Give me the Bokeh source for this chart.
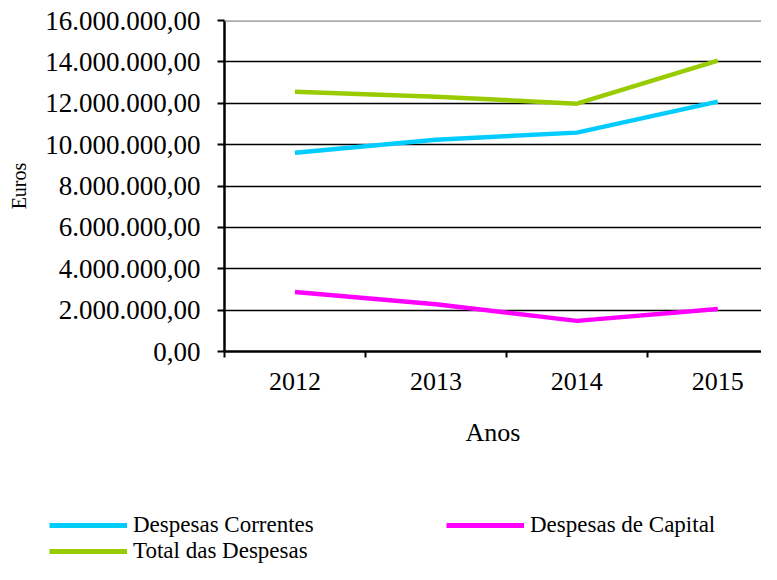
from bokeh.plotting import figure
from bokeh.models import (Range1d, FixedTicker, Legend, LegendItem, Span)
from bokeh.layouts import column
from bokeh.embed import file_html
from bokeh.resources import INLINE

# ---- data ----
years = ["2012", "2013", "2014", "2015"]
correntes = [9610000, 10240000, 10580000, 12080000]
capital = [2880000, 2280000, 1480000, 2060000]
total = [12560000, 12320000, 11980000, 14060000]
y_ticks = [0, 2000000, 4000000, 6000000, 8000000, 10000000, 12000000, 14000000, 16000000]
y_labels = ["0,00", "2.000.000,00", "4.000.000,00", "6.000.000,00", "8.000.000,00",
            "10.000.000,00", "12.000.000,00", "14.000.000,00", "16.000.000,00"]
series_names = ["Despesas Correntes", "Despesas de Capital", "Total das Despesas"]
series_colors = ["#00CCFF", "#FF00FF", "#99CC00"]

FONT = "Liberation Serif"

xpos = [i + 0.5 for i in range(len(years))]

p = figure(width=761, height=460, output_backend="svg", toolbar_location=None,
           x_range=Range1d(0, 3.81), y_range=Range1d(0, 16000000),
           min_border_left=224, min_border_right=0, min_border_top=20,
           min_border_bottom=109)
p.frame_align = False
p.outline_line_color = None
p.background_fill_color = "white"
p.border_fill_color = "white"

# x axis
p.xaxis.ticker = FixedTicker(ticks=xpos, minor_ticks=[0, 1, 2, 3])
p.xaxis.major_label_overrides = {x: y for x, y in zip(xpos, years)}
p.xaxis.major_tick_out = 0
p.xaxis.major_tick_in = 0
p.xaxis.minor_tick_out = 6
p.xaxis.minor_tick_in = 0
p.xaxis.minor_tick_line_color = "black"
p.xaxis.minor_tick_line_width = 2
p.xaxis.axis_line_color = "black"
p.xaxis.axis_line_width = 2.5
p.xaxis.major_label_text_font = FONT
p.xaxis.major_label_text_font_size = "26px"
p.xaxis.major_label_text_color = "black"
p.xaxis.major_label_standoff = 15
p.xaxis.axis_label = "Anos"
p.xaxis.axis_label_text_font = FONT
p.xaxis.axis_label_text_font_size = "26px"
p.xaxis.axis_label_text_font_style = "normal"
p.xaxis.axis_label_text_color = "black"
p.xaxis.axis_label_standoff = 25

# y axis
p.yaxis.ticker = FixedTicker(ticks=y_ticks, minor_ticks=[])
p.yaxis.major_label_overrides = {t: l for t, l in zip(y_ticks, y_labels)}
p.yaxis.major_tick_out = 7
p.yaxis.major_tick_in = 0
p.yaxis.major_tick_line_color = "black"
p.yaxis.major_tick_line_width = 2
p.yaxis.axis_line_color = "black"
p.yaxis.axis_line_width = 2.5
p.yaxis.major_label_text_font = FONT
p.yaxis.major_label_text_font_size = "27px"
p.yaxis.major_label_text_color = "black"
p.yaxis.major_label_standoff = 17
p.yaxis.axis_label = "Euros"
p.yaxis.axis_label_text_font = FONT
p.yaxis.axis_label_text_font_size = "20px"
p.yaxis.axis_label_text_font_style = "normal"
p.yaxis.axis_label_text_color = "black"
p.yaxis.axis_label_standoff = 12

# grids
p.xgrid.grid_line_color = None
p.ygrid.ticker = FixedTicker(ticks=y_ticks[1:-1])
p.ygrid.grid_line_color = "black"
p.ygrid.grid_line_width = 1.6
p.add_layout(Span(location=y_ticks[-1], dimension="width", line_color="#8c8c8c", line_width=2.5))

# lines
for vals, col in zip([correntes, capital, total], series_colors):
    p.line(xpos, vals, line_color=col, line_width=4.5)

# legend area (separate strip below the chart)
lg = figure(width=761, height=104, output_backend="svg", toolbar_location=None,
            x_range=Range1d(0, 1), y_range=Range1d(0, 1),
            min_border_left=0, min_border_right=0, min_border_top=0, min_border_bottom=0)
lg.frame_align = False
lg.axis.visible = False
lg.grid.grid_line_color = None
lg.outline_line_color = None
lg.border_fill_color = "white"
items = []
for name, col in zip(series_names, series_colors):
    # off-range stub lines, only used as legend swatches
    r = lg.line([-5, -4], [-5, -4], line_color=col, line_width=5)
    items.append(LegendItem(label=name, renderers=[r]))


def make_legend(its, x, y):
    return Legend(items=its, orientation="vertical", location=(x, y),
                  label_text_font=FONT, label_text_font_size="23px",
                  label_text_color="black",
                  glyph_width=78, glyph_height=22, label_height=22,
                  label_standoff=6, spacing=0, padding=0, margin=0,
                  border_line_color=None, background_fill_alpha=0)


lg.add_layout(make_legend([items[0], items[2]], 49, 0), "center")
lg.add_layout(make_legend([items[1]], 446, 26), "center")

layout = column(p, lg, spacing=0)
open("out.html", "w").write(file_html(layout, INLINE))
